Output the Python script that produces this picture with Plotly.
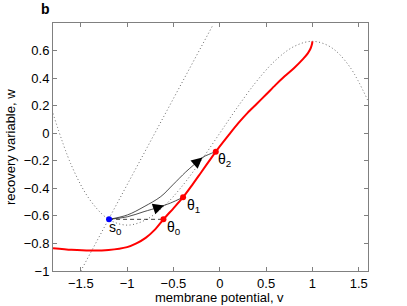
import plotly.graph_objects as go

# ---- data ----
# red threshold curve
red_v = [-1.8, -1.6, -1.4, -1.2, -1.0, -0.9, -0.8, -0.7, -0.6, -0.5, -0.4, -0.3, -0.2, -0.1,
         0.0, 0.1, 0.2, 0.3, 0.4, 0.5, 0.6, 0.7, 0.8, 0.9, 0.95, 0.98, 0.995, 1.0]
red_w = [-0.834, -0.846, -0.852, -0.848, -0.827, -0.80, -0.76, -0.70, -0.619, -0.545, -0.468, -0.378,
         -0.283, -0.188, -0.096, -0.010, 0.073, 0.148, 0.214, 0.281, 0.349, 0.413, 0.472, 0.540, 0.580,
         0.615, 0.645, 0.667]

# cubic v-nullcline (dotted)
cub_v = [-1.8, -1.6, -1.4, -1.2, -1.0, -0.8, -0.6, -0.4, -0.2, 0.0, 0.2, 0.4, 0.6, 0.8, 1.0, 1.2, 1.4, 1.6]
cub_w = [0.144, -0.235, -0.485, -0.624, -0.667, -0.629, -0.528, -0.379, -0.197, 0.0, 0.197, 0.379,
         0.528, 0.629, 0.667, 0.624, 0.485, 0.235]

# linear w-nullcline (dotted)
lin_v = [-1.5, -0.07]
lin_w = [-1.0, 0.79]

# trajectories from s0
traj1_v = [-1.195, -0.996, -0.817, -0.672, -0.602, -0.529, -0.396]
traj1_w = [-0.625, -0.606, -0.569, -0.540, -0.524, -0.506, -0.465]
traj2_v = [-1.195, -0.996, -0.817, -0.637, -0.507, -0.367, -0.281, -0.187, -0.119, -0.043]
traj2_w = [-0.625, -0.593, -0.533, -0.460, -0.375, -0.281, -0.230, -0.176, -0.154, -0.134]

# special points
s0 = (-1.195, -0.625)
theta_v = [-0.608, -0.396, -0.043]
theta_w = [-0.625, -0.465, -0.134]
theta_labels = ["θ<sub>0</sub>", "θ<sub>1</sub>", "θ<sub>2</sub>"]

x_ticks = [-1.5, -1, -0.5, 0, 0.5, 1, 1.5]
x_ticktext = ["−1.5", "−1", "−0.5", "0", "0.5", "1", "1.5"]
y_ticks = [-1, -0.8, -0.6, -0.4, -0.2, 0, 0.2, 0.4, 0.6]
y_ticktext = ["−1", "−0.8", "−0.6", "−0.4", "−0.2", "0", "0.2", "0.4", "0.6"]

x_title = "membrane potential, v"
y_title = "recovery variable, w"
panel = "b"

FONT = "Liberation Sans, Arial, Helvetica, sans-serif"
DOT = "1px,2.5px"
GRAY = "#6a6a6a"

W, H = 407, 306
ML, MR, MT, MB = 53, 39, 23, 35
PW, PH = W - ML - MR, H - MT - MB

fig = go.Figure()

fig.add_trace(go.Scatter(x=cub_v, y=cub_w, mode="lines", line=dict(color=GRAY, width=1, dash=DOT, shape="spline"),
                         hoverinfo="skip"))
fig.add_trace(go.Scatter(x=lin_v, y=lin_w, mode="lines", line=dict(color=GRAY, width=1, dash=DOT),
                         hoverinfo="skip"))
fig.add_trace(go.Scatter(x=red_v, y=red_w, mode="lines",
                         line=dict(color="#ff0000", width=2, shape="spline", smoothing=0.8),
                         hoverinfo="skip"))
# dashed s0 -> theta0
fig.add_trace(go.Scatter(x=[s0[0], theta_v[0]], y=[s0[1], theta_w[0]], mode="lines",
                         line=dict(color="#111", width=0.8, dash="4px,3px")))
fig.add_trace(go.Scatter(x=traj1_v, y=traj1_w, mode="lines", line=dict(color="#222", width=0.8, shape="spline")))
fig.add_trace(go.Scatter(x=traj2_v, y=traj2_w, mode="lines", line=dict(color="#222", width=0.8, shape="spline")))
fig.add_trace(go.Scatter(x=theta_v, y=theta_w, mode="markers", marker=dict(color="#ff0000", size=6)))
fig.add_trace(go.Scatter(x=[s0[0]], y=[s0[1]], mode="markers", marker=dict(color="#0000ff", size=6)))

# arrowheads along trajectories
for tv, tw, i in [(traj1_v, traj1_w, 4), (traj2_v, traj2_w, 7)]:
    fig.add_annotation(x=tv[i], y=tw[i], ax=tv[i - 1], ay=tw[i - 1], axref="x", ayref="y",
                       xref="x", yref="y", text="", showarrow=True, arrowhead=2, arrowsize=2.2,
                       arrowwidth=1, arrowcolor="#000", standoff=0)

# point labels
lab_font = dict(family=FONT, size=14, color="#000")
fig.add_annotation(x=s0[0], y=s0[1], text="s<sub>0</sub>", showarrow=False, xanchor="left", yanchor="top",
                   xshift=-2, yshift=2, font=lab_font)
shifts = [(2, 2), (2, 2), (0, 3)]
for v, w, t, (dx, dy) in zip(theta_v, theta_w, theta_labels, shifts):
    fig.add_annotation(x=v, y=w, text=t, showarrow=False, xanchor="left", yanchor="top",
                       xshift=dx, yshift=dy, font=lab_font)

def px_to_paper(px, py):
    return (px - ML) / PW, 1 - (py - MT) / PH

title_font = dict(family=FONT, size=13, color="#000")
# axis titles
xt = px_to_paper(219, 297)
fig.add_annotation(x=xt[0], y=xt[1], xref="paper", yref="paper", text=x_title, showarrow=False,
                   xanchor="center", yanchor="middle", font=title_font)
yt = px_to_paper(10, 147)
fig.add_annotation(x=yt[0], y=yt[1], xref="paper", yref="paper", text=y_title, showarrow=False,
                   xanchor="center", yanchor="middle", textangle=-90, font=title_font)
# panel letter
pl = px_to_paper(45, 9)
fig.add_annotation(x=pl[0], y=pl[1], xref="paper", yref="paper", text="<b>%s</b>" % panel,
                   showarrow=False, xanchor="center", yanchor="middle",
                   font=dict(family=FONT, size=14, color="#000"))

axis_common = dict(showline=True, linecolor="#808080", linewidth=1, mirror="ticks", ticks="inside",
                   ticklen=4, tickcolor="#808080", showgrid=False, zeroline=False,
                   tickfont=dict(family=FONT, size=13, color="#000"))

fig.update_layout(
    width=W, height=H,
    margin=dict(l=ML, r=MR, t=MT, b=MB),
    paper_bgcolor="white", plot_bgcolor="white",
    showlegend=False,
    xaxis=dict(range=[-1.8, 1.6], tickvals=x_ticks, ticktext=x_ticktext, **axis_common),
    yaxis=dict(range=[-1.0, 0.8], tickvals=y_ticks, ticktext=y_ticktext, **axis_common),
)

fig.write_html("out.html", config={"displayModeBar": False},
               post_script="document.body.style.margin='0';document.body.style.overflow='hidden';")
